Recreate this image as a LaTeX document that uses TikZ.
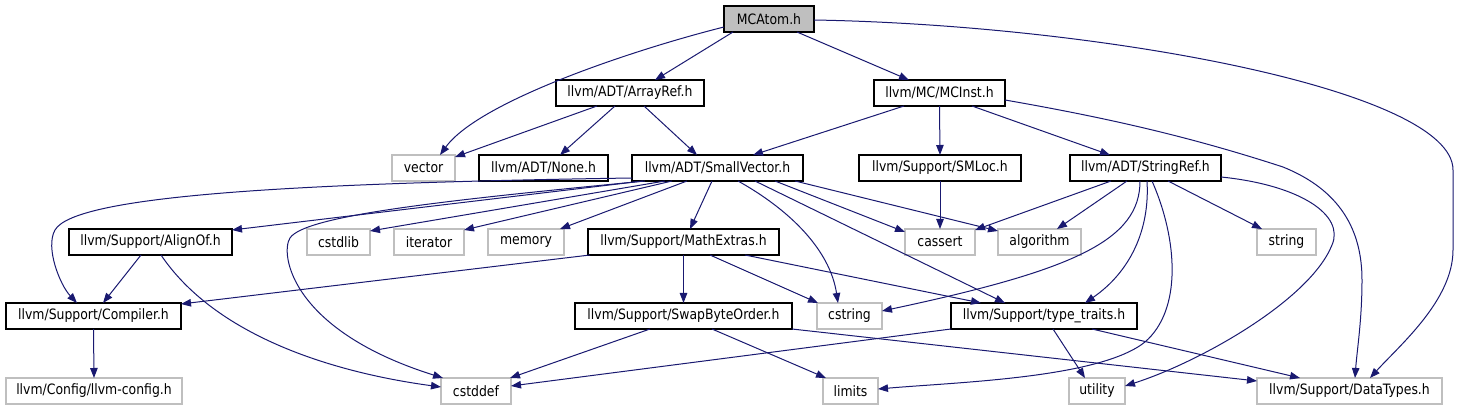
\documentclass[tikz,border=0pt]{standalone}
\usepackage{fontspec}
\setmainfont{DejaVu Sans}[FakeStretch=0.87]
\usetikzlibrary{arrows.meta,calc}
\definecolor{edgeblue}{HTML}{191970}
\definecolor{extgray}{HTML}{BFBFBF}
\begin{document}
\begin{tikzpicture}[x=1pt,y=-1pt,
  box/.style={draw=black,line width=1.1pt,minimum height=26pt,inner sep=0pt,outer sep=0pt,font=\fontsize{14.3}{16}\selectfont,anchor=center},
  ext/.style={box,draw=extgray},
  root/.style={box,fill=extgray},
  dep/.style={draw=edgeblue,line width=1pt,-{Triangle[length=10pt,width=7.5pt]}}]
\useasboundingbox (0,0) rectangle (1460,411);
% nodes
\node[root,minimum width=90pt] (mcatom) at (769,19) {MCAtom.h};
\node[box,minimum width=148pt] (arrayref) at (630,93) {llvm/ADT/ArrayRef.h};
\node[box,minimum width=131pt] (mcinst) at (939.5,93) {llvm/MC/MCInst.h};
\node[ext,minimum width=63pt] (vector) at (423.5,168) {vector};
\node[box,minimum width=129pt] (none) at (543.5,168) {llvm/ADT/None.h};
\node[box,minimum width=171pt] (sv) at (717.5,168) {llvm/ADT/SmallVector.h};
\node[box,minimum width=162pt] (smloc) at (940,168) {llvm/Support/SMLoc.h};
\node[box,minimum width=151pt] (strref) at (1145.5,168) {llvm/ADT/StringRef.h};
\node[box,minimum width=163pt] (alignof) at (150.5,242) {llvm/Support/AlignOf.h};
\node[ext,minimum width=63pt] (cstdlib) at (338.5,242) {cstdlib};
\node[ext,minimum width=70pt] (iterator) at (429,242) {iterator};
\node[ext,minimum width=76pt] (memory) at (526,242) {memory};
\node[box,minimum width=191pt] (mathex) at (683.5,242) {llvm/Support/MathExtras.h};
\node[ext,minimum width=70pt] (cassert) at (940,242) {cassert};
\node[ext,minimum width=83pt] (algorithm) at (1039.5,242) {algorithm};
\node[ext,minimum width=59pt] (string) at (1286.5,242) {string};
\node[box,minimum width=175pt] (compiler) at (93.5,316) {llvm/Support/Compiler.h};
\node[box,minimum width=217pt] (swap) at (683.5,316) {llvm/Support/SwapByteOrder.h};
\node[ext,minimum width=65pt] (cstring) at (849.5,316) {cstring};
\node[box,minimum width=186pt] (typetraits) at (1044,316) {llvm/Support/type\_traits.h};
\node[ext,minimum width=176pt] (llvmconfig) at (94,391) {llvm/Config/llvm-config.h};
\node[ext,minimum width=70pt] (cstddef) at (476,391) {cstddef};
\node[ext,minimum width=55pt] (limits) at (850.5,391) {limits};
\node[ext,minimum width=56pt] (utility) at (1097,391) {utility};
\node[ext,minimum width=185pt] (datatypes) at (1349.5,391) {llvm/Support/DataTypes.h};
% MCAtom
\draw[dep] ($(mcatom.south west)+(9,0)$) -- ($(arrayref.north west)+(99,0)$);
\draw[dep] ($(mcatom.south west)+(73,0)$) -- ($(mcinst.north west)+(35,0)$);
\draw[dep] ($(mcatom.north west)+(0,21)$) .. controls (640,48) and (480,100) .. ($(vector.north west)+(48,0)$);
\draw[dep] ($(mcatom.north east)+(0,14)$) .. controls (1100,25) and (1453,90) .. (1453,170) -- (1453,250) .. controls (1453,300) and (1400,345) .. ($(datatypes.north west)+(113,0)$);
% ArrayRef
\draw[dep] ($(arrayref.south west)+(41,0)$) -- ($(vector.north east)+(0,2)$);
\draw[dep] ($(arrayref.south west)+(59,0)$) -- ($(none.north west)+(81,0)$);
\draw[dep] ($(arrayref.south west)+(88,0)$) -- ($(sv.north west)+(65,0)$);
% MCInst
\draw[dep] ($(mcinst.south west)+(30,0)$) -- ($(sv.north west)+(121,0)$);
\draw[dep] (mcinst.south) -- (smloc.north);
\draw[dep] ($(mcinst.south west)+(98,0)$) -- ($(strref.north west)+(40,0)$);
\draw[dep] ($(mcinst.north east)+(0,20)$) .. controls (1120,120) and (1200,140) .. (1283,167) .. controls (1340,190) and (1362,230) .. (1362,280) .. controls (1362,320) and (1357,350) .. ($(datatypes.north west)+(98,0)$);
% SMLoc
\draw[dep] (smloc.south) -- (cassert.north);
% StringRef
\draw[dep] ($(strref.south west)+(41,0)$) -- ($(cassert.north east)+(0,1)$);
\draw[dep] ($(strref.south west)+(57,0)$) -- ($(algorithm.north west)+(59,0)$);
\draw[dep] ($(strref.south west)+(70,0)$) .. controls (1140,240) and (1075,270) .. ($(cstring.north east)+(0,8)$);
\draw[dep] ($(strref.south west)+(77,0)$) .. controls (1150,230) and (1130,272) .. ($(typetraits.north west)+(134,0)$);
\draw[dep] ($(strref.south west)+(82,0)$) .. controls (1178,240) and (1182,310) .. (1145,342) .. controls (1100,378) and (960,382) .. ($(limits.north east)+(0,11)$);
\draw[dep] ($(strref.south west)+(98,0)$) -- ($(string.north west)+(5,0)$);
\draw[dep] ($(strref.north east)+(0,22)$) .. controls (1300,185) and (1345,215) .. (1332,245) .. controls (1310,300) and (1200,362) .. ($(utility.north east)+(0,8)$);
% SmallVector
\draw[dep] ($(sv.north west)+(0,23)$) .. controls (300,183) and (75,195) .. (55,230) .. controls (45,247.5) and (60,285) .. ($(compiler.north west)+(71,0)$);
\draw[dep] ($(sv.south west)+(11,0)$) -- ($(alignof.north east)+(0,1)$);
\draw[dep] ($(sv.south west)+(13,0)$) .. controls (450,200) and (305,215) .. (290,238) .. controls (280,253.3) and (290,330) .. ($(cstddef.north west)+(2,0)$);
\draw[dep] ($(sv.south west)+(33,0)$) -- ($(cstdlib.north east)+(0,2)$);
\draw[dep] ($(sv.south west)+(40,0)$) -- ($(iterator.north east)+(0,1)$);
\draw[dep] ($(sv.south west)+(55,0)$) -- ($(memory.north west)+(72,0)$);
\draw[dep] ($(sv.south west)+(80,0)$) -- ($(mathex.north west)+(102,0)$);
\draw[dep] ($(sv.south west)+(106,0)$) .. controls (790,210) and (830,250) .. ($(cstring.north west)+(21,0)$);
\draw[dep] ($(sv.south west)+(123,0)$) -- ($(typetraits.north west)+(54,0)$);
\draw[dep] ($(sv.south west)+(143,0)$) -- ($(cassert.north west)+(0,3)$);
\draw[dep] ($(sv.south west)+(163,0)$) -- ($(algorithm.north west)+(0,2)$);
% MathExtras
\draw[dep] ($(mathex.south west)+(2,0)$) -- ($(compiler.north east)+(0,1)$);
\draw[dep] (mathex.south) -- (swap.north);
\draw[dep] ($(mathex.south west)+(122,0)$) -- ($(cstring.north west)+(1,0)$);
\draw[dep] ($(mathex.south west)+(157,0)$) -- ($(typetraits.north west)+(30,0)$);
% AlignOf
\draw[dep] ($(alignof.south west)+(72,0)$) -- ($(compiler.north west)+(97,0)$);
\draw[dep] ($(alignof.south west)+(92,0)$) .. controls (215,335) and (330,372) .. ($(cstddef.north west)+(0,9)$);
% Compiler
\draw[dep] (compiler.south) -- (llvmconfig.north);
% SwapByteOrder
\draw[dep] ($(swap.south west)+(75,0)$) -- ($(cstddef.north west)+(69,0)$);
\draw[dep] ($(swap.south west)+(137,0)$) -- ($(limits.north west)+(3,0)$);
\draw[dep] (swap.south east) -- ($(datatypes.north west)+(0,3)$);
% type_traits
\draw[dep] (typetraits.south west) -- ($(cstddef.north east)+(0,8)$);
\draw[dep] ($(typetraits.south west)+(102,0)$) -- ($(utility.north west)+(16,0)$);
\draw[dep] ($(typetraits.south west)+(141,0)$) -- ($(datatypes.north west)+(43,0)$);
\end{tikzpicture}
\end{document}
